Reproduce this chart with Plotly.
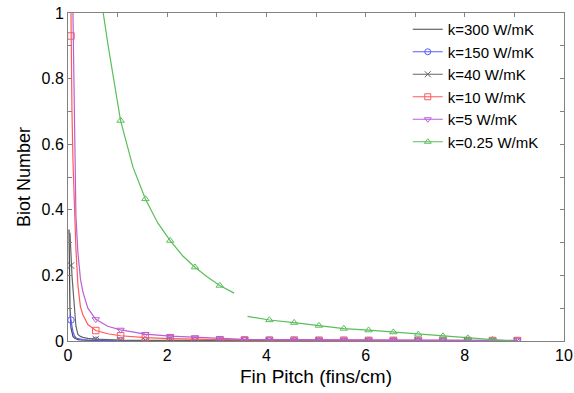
import plotly.graph_objects as go

# ---------------- data ----------------
labels = ["k=300 W/mK", "k=150 W/mK", "k=40 W/mK", "k=10 W/mK", "k=5 W/mK", "k=0.25 W/mK"]

x_k300 = [0.02, 0.04, 0.06, 0.08, 0.1, 0.13, 0.16, 0.2, 0.25, 0.3, 0.4, 0.56, 0.8, 1.06, 1.56, 2.06, 2.56, 3.06]
y_k300 = [0.34, 0.10, 0.04, 0.022, 0.014, 0.009, 0.006, 0.004, 0.003, 0.0025, 0.002, 0.0015, 0.001, 0.001, 0.0008, 0.0007, 0.0006, 0.0005]

x_k150 = [0.04, 0.06, 0.08, 0.1, 0.13, 0.16, 0.2, 0.25, 0.3, 0.4, 0.56, 0.8, 1.06, 1.56, 2.06, 2.56, 3.06, 3.56, 4.06, 4.56, 5.06, 5.56, 6.06, 6.56, 7.06, 7.56, 8.06, 8.56, 9.06]
y_k150 = [0.08, 0.064, 0.042, 0.028, 0.016, 0.010, 0.007, 0.005, 0.004, 0.003, 0.002, 0.0015, 0.0012, 0.001, 0.001, 0.0009, 0.0008, 0.0008, 0.0007, 0.0007, 0.0006, 0.0006, 0.0006, 0.0005, 0.0005, 0.0005, 0.0005, 0.0005, 0.0005]

x_k40 = [0.04, 0.06, 0.08, 0.1, 0.13, 0.16, 0.2, 0.25, 0.3, 0.4, 0.56, 0.8, 1.06, 1.56, 2.06, 2.56, 3.06, 3.56, 4.06, 4.56, 5.06, 5.56, 6.06, 6.56, 7.06, 7.56, 8.06, 8.56, 9.06]
y_k40 = [0.33, 0.23, 0.20, 0.16, 0.11, 0.045, 0.02, 0.014, 0.011, 0.008, 0.006, 0.004, 0.003, 0.002, 0.0018, 0.0016, 0.0015, 0.0014, 0.0013, 0.0012, 0.0012, 0.0011, 0.0011, 0.001, 0.001, 0.001, 0.001, 0.001, 0.001]

x_k10 = [0.04, 0.06, 0.08, 0.1, 0.13, 0.16, 0.2, 0.25, 0.3, 0.4, 0.56, 0.8, 1.06, 1.56, 2.06, 2.56, 3.06, 3.56, 4.06, 4.56, 5.06, 5.56, 6.06, 6.56, 7.06, 7.56, 8.06, 8.56, 9.06]
y_k10 = [1.3, 0.93, 0.70, 0.55, 0.38, 0.28, 0.17, 0.105, 0.08, 0.05, 0.032, 0.022, 0.016, 0.010, 0.007, 0.005, 0.004, 0.0035, 0.003, 0.003, 0.0025, 0.0025, 0.002, 0.002, 0.002, 0.002, 0.0015, 0.0015, 0.0015]

x_k5 = [0.08, 0.1, 0.13, 0.16, 0.2, 0.25, 0.3, 0.4, 0.56, 0.8, 1.06, 1.56, 2.06, 2.56, 3.06, 3.56, 4.06, 4.56, 5.06, 5.56, 6.06, 6.56, 7.06, 7.56, 8.06, 8.56, 9.06]
y_k5 = [1.2, 0.98, 0.55, 0.38, 0.27, 0.19, 0.15, 0.10, 0.066, 0.045, 0.034, 0.021, 0.015, 0.011, 0.008, 0.005, 0.004, 0.0035, 0.003, 0.003, 0.003, 0.0028, 0.0026, 0.0024, 0.0022, 0.002, 0.002]

x_k025 = [0.56, 0.71, 0.81, 1.06, 1.31, 1.56, 1.81, 2.06, 2.31, 2.56, 2.81, 3.06, 3.35, None,
          3.62, 4.06, 4.56, 5.06, 5.56, 6.06, 6.56, 7.06, 7.56, 8.06, 8.56, 9.0]
y_k025 = [1.36, 1.0, 0.90, 0.672, 0.53, 0.433, 0.36, 0.306, 0.26, 0.225, 0.195, 0.169, 0.146, None,
          0.075, 0.064, 0.056, 0.047, 0.038, 0.033, 0.027, 0.020, 0.015, 0.009, 0.004, 0.0]

x_ticks = [0, 1, 2, 3, 4, 5, 6, 7, 8, 9, 10]
x_ticktext = ["0", "", "2", "", "4", "", "6", "", "8", "", "10"]
y_ticks = [0, 0.1, 0.2, 0.3, 0.4, 0.5, 0.6, 0.7, 0.8, 0.9, 1.0]
y_ticktext = ["0", "", "0.2", "", "0.4", "", "0.6", "", "0.8", "", "1"]

# ---------------- styles ----------------
series = [
    (x_k300, y_k300, "rgb(70,70,70)", None),
    (x_k150, y_k150, "rgb(90,90,255)", "circle-open"),
    (x_k40, y_k40, "rgb(100,100,100)", "x-thin-open"),
    (x_k10, y_k10, "rgb(255,90,90)", "square-open"),
    (x_k5, y_k5, "rgb(185,95,215)", "triangle-down-open"),
    (x_k025, y_k025, "rgb(90,190,90)", "triangle-up-open"),
]

FONT = "Arial, 'Liberation Sans', sans-serif"


def on_marker_grid(x):
    if x is None:
        return False
    k = (x - 0.06) / 0.5
    return abs(k - round(k)) < 0.02


fig = go.Figure()

# legend entries
for (xs, ys, col, sym), lab in zip(series, labels):
    fig.add_trace(go.Scatter(
        x=[None], y=[None], name=lab,
        mode="lines+markers" if sym else "lines",
        line=dict(color=col, width=1.2),
        marker=dict(symbol=sym or "circle", size=6, color=col,
                    line=dict(color=col, width=1)),
    ))

# curves
for (xs, ys, col, sym), lab in zip(series, labels):
    fig.add_trace(go.Scatter(
        x=xs, y=ys, mode="lines", showlegend=False, connectgaps=False,
        line=dict(color=col, width=1.2, shape="linear"),
    ))
    if sym:
        mx = [x for x in xs if on_marker_grid(x)]
        my = [y for x, y in zip(xs, ys) if on_marker_grid(x)]
        fig.add_trace(go.Scatter(
            x=mx, y=my, mode="markers", showlegend=False,
            marker=dict(symbol=sym, size=6.5, color=col,
                        line=dict(color=col, width=1)),
        ))

axis_common = dict(
    showline=True, linecolor="rgb(130,130,130)", linewidth=1, mirror="ticks",
    ticks="inside", ticklen=4, tickcolor="rgb(130,130,130)", tickwidth=1,
    showgrid=False, zeroline=False, automargin=False,
    tickfont=dict(family=FONT, size=16, color="black"),
)

fig.update_layout(
    width=574, height=393,
    margin=dict(l=68, r=10, t=13, b=52),
    paper_bgcolor="white", plot_bgcolor="white",
    font=dict(family=FONT, color="black"),
    xaxis=dict(range=[0, 10], tickvals=x_ticks, ticktext=x_ticktext,
               title=dict(text="Fin Pitch (fins/cm)", font=dict(family=FONT, size=19), standoff=6),
               **axis_common),
    yaxis=dict(range=[0, 1], tickvals=y_ticks, ticktext=y_ticktext,
               title=dict(text="Biot Number", font=dict(family=FONT, size=18), standoff=6),
               **axis_common),
    legend=dict(x=0.685, y=1.0, xanchor="left", yanchor="top",
                bgcolor="rgba(0,0,0,0)", borderwidth=0,
                font=dict(family=FONT, size=15, color="black"),
                tracegroupgap=0),
)

fig.write_html("out.html")
